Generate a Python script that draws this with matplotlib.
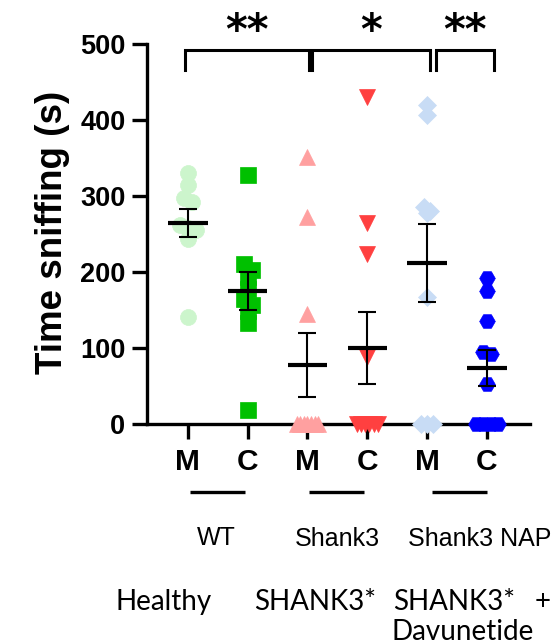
import numpy as np
import matplotlib
matplotlib.use("Agg")
import matplotlib.pyplot as plt
from matplotlib.transforms import blended_transform_factory

# ---- data -------------------------------------------------------------
groups = ["M", "C", "M", "C", "M", "C"]
wt_m = [330, 314, 298, 292, 262, 258, 255, 244, 141]
wt_c = [327, 211, 203, 193, 178, 165, 157, 149, 133, 19]
sh_m = [351, 272, 145, 0, 0, 0, 0, 0, 0, 0]
sh_c = [430, 264, 224, 88, 0, 0, 0, 0, 0, 0]
nap_m = [420, 407, 286, 280, 277, 167, 0, 0, 0]
nap_c = [192, 175, 135, 95, 92, 53, 0, 0, 0, 0]
means = [265, 175, 78, 100, 212, 74]
sems = [18.5, 24.5, 42, 48, 51.5, 24]
yticks = [0, 100, 200, 300, 400, 500]
genotypes = ["WT", "Shank3", "Shank3 NAP"]
stars = ["**", "*", "**"]

series = [wt_m, wt_c, sh_m, sh_c, nap_m, nap_c]
colors = ["#ccf5cc", "#00c000", "#ffa0a0", "#ff4040", "#c8dcf5", "#0000ff"]
markers = ["o", "s", "^", "v", "D", "H"]
msizes = [11.5, 11.5, 11, 11, 9, 11.3]

W, H = 552, 642
fig = plt.figure(figsize=(W / 100, H / 100), dpi=100)
ax = fig.add_axes([147 / W, 1 - 424 / H, (530 - 147) / W, 380 / H])
ax.set_xlim(0.317, 6.72)
ax.set_ylim(0, 500)

px_x = 60.0   # pixels per category
px_y = 0.76   # pixels per second


def swarm(vals, diam_px):
    """Horizontal offsets (data units) spreading near-equal values in a row."""
    order = np.argsort(vals)[::-1]
    rows, cur = [], []
    for i in order:
        if cur and (vals[cur[0]] - vals[i]) * px_y > 0.5 * diam_px:
            rows.append(cur)
            cur = []
        cur.append(i)
    rows.append(cur)
    offs = np.zeros(len(vals))
    for r in rows:
        n = len(r)
        if n == 1:
            continue
        sp = min(0.5 * diam_px, 1.4 * diam_px / (n - 1))
        for k, i in enumerate(r):
            offs[i] = (k - (n - 1) / 2) * sp / px_x
    return offs


lw_axis = 2.4
for i, (vals, c, m, ms) in enumerate(zip(series, colors, markers, msizes)):
    x0 = i + 1
    d = ms * 100 / 72
    xs = x0 + swarm(vals, d)
    ax.plot(xs, vals, linestyle="none", marker=m, markersize=ms,
            markerfacecolor=c, markeredgecolor=c, markeredgewidth=0.5,
            clip_on=False, zorder=3)
    ax.errorbar(x0, means[i], yerr=sems[i], fmt="none", ecolor="black",
                elinewidth=1.5, capsize=6.8, capthick=1.5, zorder=4)
    ax.hlines(means[i], x0 - 0.33, x0 + 0.33, color="black", lw=3.0, zorder=5)

for s in ["top", "right"]:
    ax.spines[s].set_visible(False)
for s in ["left", "bottom"]:
    ax.spines[s].set_linewidth(lw_axis)

ax.set_yticks(yticks)
ax.set_yticklabels([str(v) for v in yticks], fontsize=19.5,
                   fontweight="bold", family="Liberation Sans")
ax.set_xticks(range(1, 7))
ax.set_xticklabels(groups, fontsize=21.5, fontweight="bold",
                   family="Liberation Sans")
ax.tick_params(axis="both", length=10.5, width=lw_axis, color="black")
ax.tick_params(axis="y", pad=5)
ax.tick_params(axis="x", pad=7)

# significance brackets: (left, right)
bracket_x = [(0.95, 3.02), (3.08, 5.05), (5.15, 6.12)]
for (xa, xb), lab in zip(bracket_x, stars):
    ax.plot([xa, xa, xb, xb], [466, 492.5, 492.5, 466], color="black",
            lw=2.2, solid_joinstyle="miter", clip_on=False)
    ax.text((xa + xb) / 2, 500, lab, ha="center", va="baseline",
            fontsize=30, fontweight="bold", family="DejaVu Sans",
            clip_on=False)

# group underlines beneath the tick labels
tr = blended_transform_factory(ax.transData, ax.transAxes)
yl = (424 - 492) / 380
for a, b in [(1.03, 1.95), (3.03, 3.95), (5.08, 6.0)]:
    ax.plot([a, b], [yl, yl], color="black", lw=2.4, transform=tr,
            clip_on=False, solid_capstyle="butt")


def fx(px):
    return px / W


def fy(py):
    return 1 - py / H


fig.text(fx(52), fy(232), "Time sniffing (s)", rotation=90, ha="center",
         va="center", fontsize=26.5, fontweight="bold",
         family="Liberation Sans")

fig.text(fx(216), fy(545), genotypes[0], ha="center", va="baseline",
         fontsize=18, family="Liberation Sans")
fig.text(fx(337), fy(546), genotypes[1], ha="center", va="baseline",
         fontsize=18, family="Liberation Sans")
fig.text(fx(408), fy(546), genotypes[2], ha="left", va="baseline",
         fontsize=18, family="Liberation Sans")

fig.text(fx(115), fy(610), "Healthy", ha="left", va="baseline",
         fontsize=20, family="Lato")
fig.text(fx(254), fy(610), "SHANK3*", ha="left", va="baseline",
         fontsize=20, family="Lato")
fig.text(fx(393), fy(610), "SHANK3*", ha="left", va="baseline",
         fontsize=20, family="Lato")
fig.text(fx(535), fy(610), "+", ha="left", va="baseline",
         fontsize=20, family="Lato")
fig.text(fx(392), fy(640), "Davunetide", ha="left", va="baseline",
         fontsize=20, family="Lato")

fig.savefig("out.png", dpi=100)
